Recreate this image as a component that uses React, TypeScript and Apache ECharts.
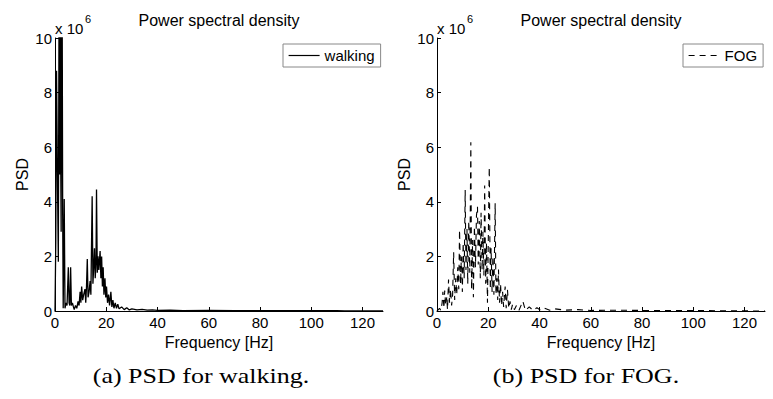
import React, { useEffect, useRef } from 'react';
import * as echarts from 'echarts';

// Values in units of 10^6
const walkingFreq = [
  0, 0.3, 0.6, 1.0, 1.3, 1.6, 1.8, 2.0, 2.2, 2.4, 2.6, 2.8, 3.0, 3.2, 3.6, 3.9, 4.3, 4.7, 5.2, 5.5,
  5.8, 6.1, 6.4, 6.8, 7.2, 7.5, 8.0, 8.5, 9.0, 9.4, 9.8, 10.1, 10.4, 10.8, 11.2, 11.7, 12.0, 12.3, 12.6, 12.9,
  13.3, 13.7, 14.0, 14.5, 14.8, 15.1, 15.4, 15.7, 16.0, 16.2, 16.5, 16.8, 17.1, 17.6, 17.9, 18.2, 18.5, 18.8, 19.1, 19.5,
  19.8, 20.1, 20.5, 20.9, 21.3, 21.8, 22.2, 22.6, 23.0, 23.5, 24.0, 24.5, 25, 26, 27, 28, 29, 30, 32, 34,
  36, 38, 40, 45, 50, 60, 70, 80, 90, 100, 110, 113, 128,
];
const walkingPsd = [
  0, 2.5, 8.8, 4.5, 1.8, 12, 5, 14, 6, 2.9, 13, 11, 3.5, 0.1, 4.1, 0.1, 0.3, 0.2, 1.6, 0.3,
  0.2, 1.6, 0.2, 0.3, 0.15, 0.05, 0.2, 0.1, 0.35, 0.2, 0.7, 0.3, 0.9, 0.4, 0.6, 0.8, 0.3, 0.9, 1.9, 0.5,
  0.7, 1.1, 0.6, 4.2, 1.0, 1.6, 2.3, 1.2, 1.8, 4.45, 1.4, 2.0, 1.5, 2.2, 1.2, 2.0, 0.9, 1.6, 0.6, 1.2,
  0.5, 0.9, 0.3, 0.6, 0.2, 0.7, 0.15, 0.4, 0.1, 0.3, 0.1, 0.25, 0.08, 0.15, 0.05, 0.12, 0.04, 0.08, 0.04, 0.06,
  0.03, 0.04, 0.02, 0.03, 0.015, 0.02, 0.01, 0.015, 0.01, 0.01, 0.01, 0.005, 0,
];

const fogFreq = [
  0, 0.5, 1.0, 1.5, 2.0, 2.3, 2.7, 3.0, 3.4, 3.8, 4.1, 4.5, 4.9, 5.3, 5.7, 6.1, 6.5, 6.9, 7.3, 7.7,
  8.1, 8.5, 8.8, 9.2, 9.5, 9.9, 10.2, 10.6, 11.0, 11.3, 11.7, 12.0, 12.4, 12.8, 13.2, 13.5, 13.9, 14.2, 14.6, 15.0,
  15.4, 15.8, 16.1, 16.5, 16.9, 17.2, 17.6, 17.9, 18.3, 18.6, 19.0, 19.3, 19.7, 20.1, 20.4, 20.8, 21.1, 21.5, 21.8, 22.2,
  22.7, 23.0, 23.4, 23.7, 24.0, 24.4, 24.8, 25.2, 25.6, 26.0, 26.6, 27.0, 27.5, 28.0, 28.5, 29.0, 29.5, 30.2, 31, 32,
  33.5, 34.5, 36, 37.5, 39, 40.5, 42, 44, 46, 50, 55, 60, 70, 80, 90, 100, 110, 128,
];
const fogPsd = [
  0, 0.05, 0.1, 0.02, 0.3, 0.7, 0.1, 0.75, 0.2, 0.5, 0.05, 1.15, 0.3, 0.8, 0.2, 0.6, 2.15, 0.4, 1.2, 0.6,
  1.6, 0.8, 2.97, 1.0, 2.0, 0.7, 2.5, 1.2, 4.43, 1.5, 3.0, 1.0, 3.3, 1.4, 6.18, 0.8, 2.6, 0.5, 3.1, 1.6,
  3.5, 3.82, 1.7, 3.3, 1.2, 3.6, 1.5, 2.9, 1.3, 4.6, 1.0, 2.5, 0.3, 3.2, 5.27, 0.8, 2.3, 0.7, 2.0, 0.6,
  3.95, 0.6, 1.2, 0.4, 1.52, 0.3, 1.0, 0.2, 0.7, 0.15, 0.9, 0.1, 0.78, 0.1, 0.35, 0.05, 0.25, 0.05, 0.2, 0.03,
  0.36, 0.02, 0.15, 0.02, 0.12, 0.02, 0.1, 0.03, 0.08, 0.03, 0.05, 0.02, 0.03, 0.02, 0.02, 0.015, 0.01, 0,
];

const xTicks = [0, 20, 40, 60, 80, 100, 120];
const yTicks = [0, 2, 4, 6, 8, 10];
const plotTitle = 'Power spectral density';
const xName = 'Frequency [Hz]';
const yName = 'PSD';
const captions = ['(a) PSD for walking.', '(b) PSD for FOG.'];
const seriesNames = ['walking', 'FOG'];

const SANS = '"Liberation Sans", Arial, Helvetica, sans-serif';
const SERIF = '"Liberation Serif", "Times New Roman", serif';
const DASH = [6, 5];

export default function App() {
  const ref = useRef<HTMLDivElement>(null);
  useEffect(() => {
    document.body.style.margin = '0';
    const chart = echarts.init(ref.current!, null, { renderer: 'svg' });
    const gridLefts = [55, 437];
    const gridW = 328;
    const mkX = (i: number) => ({
      type: 'value',
      gridIndex: i,
      min: 0,
      max: 128,
      interval: 20,
      axisLine: { show: true, onZero: false, lineStyle: { color: '#000', width: 1 } },
      axisTick: { show: true, inside: true, length: 4, customValues: xTicks, lineStyle: { color: '#000' } },
      axisLabel: { customValues: xTicks, fontSize: 15, color: '#000', margin: 4, fontFamily: SANS },
      splitLine: { show: false },
      name: xName,
      nameLocation: 'middle',
      nameGap: 19,
      nameTextStyle: { fontSize: 16, color: '#000', fontFamily: SANS },
    });
    const mkY = (i: number) => ({
      type: 'value',
      gridIndex: i,
      min: 0,
      max: 10,
      interval: 2,
      axisLine: { show: true, onZero: false, lineStyle: { color: '#000', width: 1 } },
      axisTick: { show: true, inside: true, length: 4, customValues: yTicks, lineStyle: { color: '#000' } },
      axisLabel: { customValues: yTicks, fontSize: 15, color: '#000', margin: 3, fontFamily: SANS },
      splitLine: { show: false },
      name: yName,
      nameLocation: 'middle',
      nameGap: 25,
      nameRotate: 90,
      nameTextStyle: { fontSize: 16, color: '#000', fontFamily: SANS },
    });
    const texts: any[] = [];
    gridLefts.forEach((gl) => {
      texts.push({
        type: 'text', x: gl + gridW / 2, y: 20,
        style: { text: plotTitle, fontSize: 16, fontFamily: SANS, fill: '#000', align: 'center', verticalAlign: 'middle', textAlign: 'center', textVerticalAlign: 'middle' },
      });
      texts.push({
        type: 'text', x: gl, y: 28,
        style: { text: 'x 10', fontSize: 15, fontFamily: SANS, fill: '#000', align: 'left', verticalAlign: 'middle', textAlign: 'left', textVerticalAlign: 'middle' },
      });
      texts.push({
        type: 'text', x: gl + 30, y: 19,
        style: { text: '6', fontSize: 11, fontFamily: SANS, fill: '#000', align: 'left', verticalAlign: 'middle', textAlign: 'left', textVerticalAlign: 'middle' },
      });
    });
    [201, 586].forEach((cx, i) => {
      texts.push({
        type: 'text', x: cx, y: 376, scaleX: 1.3,
        style: { text: captions[i], fontSize: 20, fontFamily: SERIF, fill: '#000', align: 'center', verticalAlign: 'middle', textAlign: 'center', textVerticalAlign: 'middle' },
      });
    });
    const legendCommon = {
      orient: 'horizontal',
      top: 44,
      padding: [4, 6, 4, 5],
      itemWidth: 31,
      itemHeight: 12,
      borderColor: '#888',
      borderWidth: 1,
      backgroundColor: '#fff',
      itemStyle: { opacity: 0, borderWidth: 0 },
      textStyle: { fontSize: 15, color: '#000', fontFamily: SANS },
    };
    chart.setOption({
      animation: false,
      backgroundColor: '#fff',
      grid: gridLefts.map((gl) => ({ left: gl, top: 38, width: gridW, height: 273, containLabel: false })),
      xAxis: [mkX(0), mkX(1)],
      yAxis: [mkY(0), mkY(1)],
      legend: [
        { ...legendCommon, left: 283, data: [seriesNames[0]], lineStyle: { type: 'solid', width: 1.2 } },
        { ...legendCommon, left: 683, data: [seriesNames[1]], lineStyle: { type: DASH, width: 1.2 } },
      ],
      series: [
        {
          name: seriesNames[0],
          type: 'line',
          xAxisIndex: 0,
          yAxisIndex: 0,
          symbol: 'none',
          clip: true,
          lineStyle: { color: '#000', width: 1.3, type: 'solid' },
          itemStyle: { color: '#000' },
          data: walkingFreq.map((f, i) => [f, walkingPsd[i]]),
        },
        {
          name: seriesNames[1],
          type: 'line',
          xAxisIndex: 1,
          yAxisIndex: 1,
          symbol: 'none',
          clip: true,
          lineStyle: { color: '#000', width: 1.1, type: DASH },
          itemStyle: { color: '#000' },
          data: fogFreq.map((f, i) => [f, fogPsd[i]]),
        },
      ],
      graphic: texts,
    });
    return () => chart.dispose();
  }, []);
  return <div ref={ref} style={{ width: 773, height: 399 }} />;
}
